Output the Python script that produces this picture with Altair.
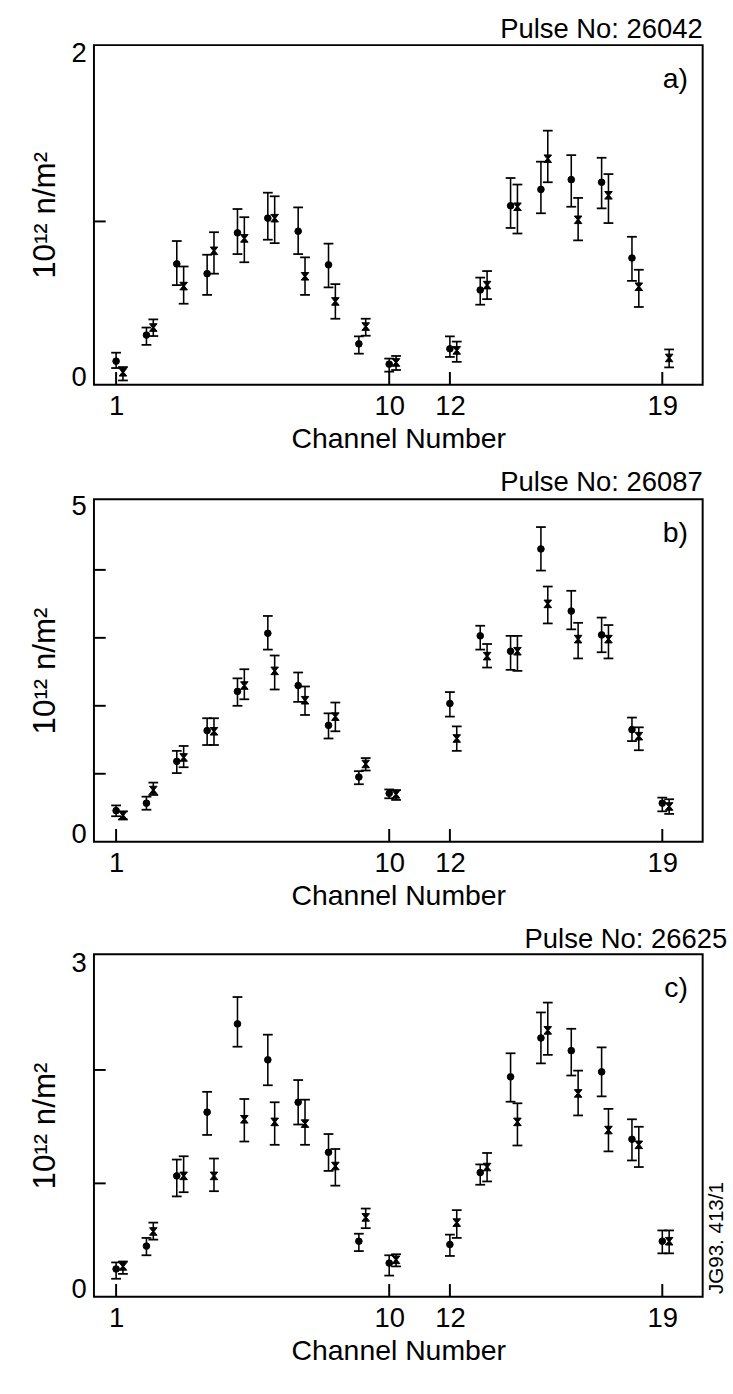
import altair as alt
import pandas as pd

FONT = "Liberation Sans"
W = 622

channels = [1, 2, 3, 4, 5, 6, 7, 8, 9, 10, 12, 13, 14, 15, 16, 17, 18, 19]
tick_channels = [1, 10, 12, 19]

# Pulse 26042 (dots / crosses with lower and upper error limits)
a_dot = [0.144, 0.304, 0.740, 0.680, 0.930, 1.020, 0.940, 0.734, 0.250, 0.126,
         0.220, 0.580, 1.096, 1.196, 1.256, 1.240, 0.776, None]
a_dot_lo = [0.102, 0.244, 0.610, 0.550, 0.800, 0.888, 0.800, 0.596, 0.190, 0.080,
            0.170, 0.490, 0.960, 1.050, 1.090, 1.080, 0.636, None]
a_dot_hi = [0.196, 0.350, 0.880, 0.796, 1.076, 1.176, 1.086, 0.864, 0.296, 0.160,
            0.296, 0.656, 1.266, 1.366, 1.406, 1.390, 0.906, None]
a_cross = [0.076, 0.350, 0.604, 0.820, 0.896, 1.020, 0.664, 0.510, 0.356, 0.136,
           0.210, 0.610, 1.090, 1.384, 1.010, 1.160, 0.600, 0.164]
a_cross_lo = [0.026, 0.298, 0.496, 0.680, 0.750, 0.867, 0.550, 0.404, 0.300, 0.090,
              0.140, 0.524, 0.926, 1.240, 0.884, 0.990, 0.476, 0.106]
a_cross_hi = [0.108, 0.400, 0.724, 0.934, 1.026, 1.154, 0.780, 0.616, 0.404, 0.176,
              0.264, 0.696, 1.226, 1.556, 1.144, 1.290, 0.704, 0.216]

# Pulse 26087
b_dot = [0.457, 0.567, 1.183, 1.635, 2.212, 3.067, 2.298, 1.712, 0.952, 0.712,
         2.034, 3.029, 2.803, 4.308, 3.394, 3.043, 1.649, 0.567]
b_dot_lo = [0.375, 0.471, 1.010, 1.423, 2.000, 2.827, 2.058, 1.519, 0.846, 0.639,
            1.841, 2.827, 2.529, 3.990, 3.125, 2.788, 1.481, 0.447]
b_dot_hi = [0.534, 0.663, 1.337, 1.817, 2.404, 3.322, 2.490, 1.889, 1.038, 0.769,
            2.202, 3.178, 3.029, 4.630, 3.692, 3.298, 1.827, 0.649]
b_cross = [0.389, 0.760, 1.240, 1.625, 2.298, 2.514, 2.082, 1.841, 1.144, 0.697,
           1.519, 2.731, 2.803, 3.500, 2.981, 2.981, 1.553, 0.519]
b_cross_lo = [0.327, 0.688, 1.096, 1.423, 2.096, 2.240, 1.865, 1.625, 1.048, 0.615,
              1.337, 2.563, 2.514, 3.212, 2.697, 2.697, 1.346, 0.409]
b_cross_hi = [0.447, 0.870, 1.409, 1.817, 2.538, 2.740, 2.284, 2.048, 1.231, 0.760,
              1.697, 2.909, 3.029, 3.755, 3.221, 3.188, 1.683, 0.625]

# Pulse 26625
c_dot = [0.245, 0.447, 1.066, 1.628, 2.406, 2.089, 1.715, 1.274, 0.490, 0.297,
         0.461, 1.095, 1.939, 2.282, 2.170, 1.983, 1.389, 0.490]
c_dot_lo = [0.159, 0.366, 0.885, 1.427, 2.205, 1.865, 1.519, 1.110, 0.403, 0.187,
            0.360, 0.988, 1.720, 2.058, 1.951, 1.767, 1.202, 0.383]
c_dot_hi = [0.303, 0.519, 1.210, 1.807, 2.643, 2.311, 1.911, 1.435, 0.556, 0.366,
            0.548, 1.167, 2.147, 2.507, 2.363, 2.199, 1.565, 0.585]
c_cross = [0.268, 0.576, 1.066, 1.066, 1.565, 1.542, 1.527, 1.153, 0.700, 0.326,
           0.654, 1.144, 1.542, 2.349, 1.793, 1.470, 1.340, 0.490]
c_cross_lo = [0.202, 0.504, 0.922, 0.931, 1.369, 1.340, 1.340, 0.980, 0.605, 0.268,
              0.519, 1.017, 1.334, 2.133, 1.599, 1.282, 1.144, 0.383]
c_cross_hi = [0.311, 0.654, 1.239, 1.219, 1.744, 1.715, 1.738, 1.303, 0.778, 0.375,
              0.764, 1.268, 1.706, 2.594, 1.994, 1.657, 1.499, 0.585]

HOURGLASS = "M-1,-1L1,-1L0.2,0L1,1L-1,1L-0.2,0Z"


def table(vals, lo, hi):
    rows = [
        {"ch": c, "val": v, "lo": l, "hi": h}
        for c, v, l, h in zip(channels, vals, lo, hi)
        if v is not None
    ]
    return pd.DataFrame(rows)


def series_layers(df, xe, ye, shape, size, dx):
    base = alt.Chart(df)
    bars = base.mark_rule(color="black", strokeWidth=1.6, xOffset=dx).encode(
        x=xe("ch"), y=ye("lo"), y2="hi:Q",
    )
    cap_lo = base.mark_tick(orient="horizontal", color="black", size=10,
                            thickness=1.8, xOffset=dx, opacity=1).encode(
        x=xe("ch"), y=ye("lo"),
    )
    cap_hi = base.mark_tick(orient="horizontal", color="black", size=10,
                            thickness=1.8, xOffset=dx, opacity=1).encode(
        x=xe("ch"), y=ye("hi"),
    )
    pts = base.mark_point(shape=shape, filled=True, color="black", size=size,
                          opacity=1, xOffset=dx, stroke="black",
                          strokeWidth=1).encode(
        x=xe("ch"), y=ye("val"),
    )
    return [bars, cap_lo, cap_hi, pts]


def panel(dots, crosses, ymax, top_label, top_off, inner, height, title, tag, note=None):
    x_scale = alt.Scale(domain=[0.27, 20.33], nice=False, zero=False)
    y_scale = alt.Scale(domain=[0, ymax], nice=False, zero=False)

    x_axis = alt.Axis(
        values=tick_channels, ticks=False, domain=False, grid=False,
        labelFontSize=28, labelPadding=8, labelFlush=False, labelColor="black",
        labelFont=FONT, title="Channel Number", titleFontSize=29,
        titleFontWeight="normal", titlePadding=5, titleColor="black", titleFont=FONT,
    )
    y_axis = alt.Axis(
        values=[0, top_label], format="d", ticks=False, domain=False, grid=False,
        labelFontSize=28, labelPadding=8, labelColor="black", labelFont=FONT,
        labelOffset={"condition": {"test": "datum.value == 0", "value": -7},
                     "value": top_off},
        title="10¹² n/m²", titleFontSize=32, titleFontWeight="normal",
        titlePadding=10, titleColor="black", titleFont=FONT,
    )

    def xe(field):
        return alt.X(f"{field}:Q", scale=x_scale, axis=x_axis)

    def ye(field):
        return alt.Y(f"{field}:Q", scale=y_scale, axis=y_axis)

    layers = []
    layers += series_layers(dots, xe, ye, "circle", 46, 0)
    layers += series_layers(crosses, xe, ye, HOURGLASS, 60, 7)

    # inward ticks on the bottom frame
    layers.append(
        alt.Chart(pd.DataFrame({"t": tick_channels})).mark_rule(
            color="black", strokeWidth=2
        ).encode(
            x=xe("t"), y=alt.value(height), y2=alt.value(height - 13),
        )
    )
    # inward ticks on the left frame
    layers.append(
        alt.Chart(pd.DataFrame({"t": inner})).mark_rule(
            color="black", strokeWidth=2
        ).encode(
            y=ye("t"), x=alt.value(0), x2=alt.value(12),
        )
    )
    # panel letter
    layers.append(
        alt.Chart(pd.DataFrame({"s": [tag]})).mark_text(
            align="right", baseline="middle", fontSize=29, font=FONT, color="black"
        ).encode(text="s:N", x=alt.value(W - 15), y=alt.value(35))
    )
    if note:
        layers.append(
            alt.Chart(pd.DataFrame({"s": [note]})).mark_text(
                align="center", baseline="middle", fontSize=21, font=FONT,
                color="black", angle=270,
            ).encode(text="s:N", x=alt.value(W + 15), y=alt.value(290))
        )

    return alt.layer(*layers).properties(
        width=W, height=height,
        title=alt.TitleParams(title, anchor="end", fontSize=28, fontWeight="normal",
                              font=FONT, color="black", offset=-4),
    )


pa = panel(table(a_dot, a_dot_lo, a_dot_hi), table(a_cross, a_cross_lo, a_cross_hi),
           2.08, 2, -5, [1], 347, "Pulse No: 26042", "a)")
pb = panel(table(b_dot, b_dot_lo, b_dot_hi), table(b_cross, b_cross_lo, b_cross_hi),
           5.04, 5, 5, [1, 2, 3, 4], 350, "Pulse No: 26087", "b)")
pc = panel(table(c_dot, c_dot_lo, c_dot_hi), table(c_cross, c_cross_lo, c_cross_hi),
           3.02, 3, 7, [1, 2], 350, "Pulse No: 26625", "c)", note="JG93. 413/1")

chart = alt.vconcat(pa, pb, pc, spacing=14).properties(
    padding={"left": 28, "top": 0, "right": 5, "bottom": 2},
    background="white",
).configure(font=FONT).configure_view(stroke="black", strokeWidth=2)

chart.save("out.html", embed_options={"renderer": "svg", "actions": False})
